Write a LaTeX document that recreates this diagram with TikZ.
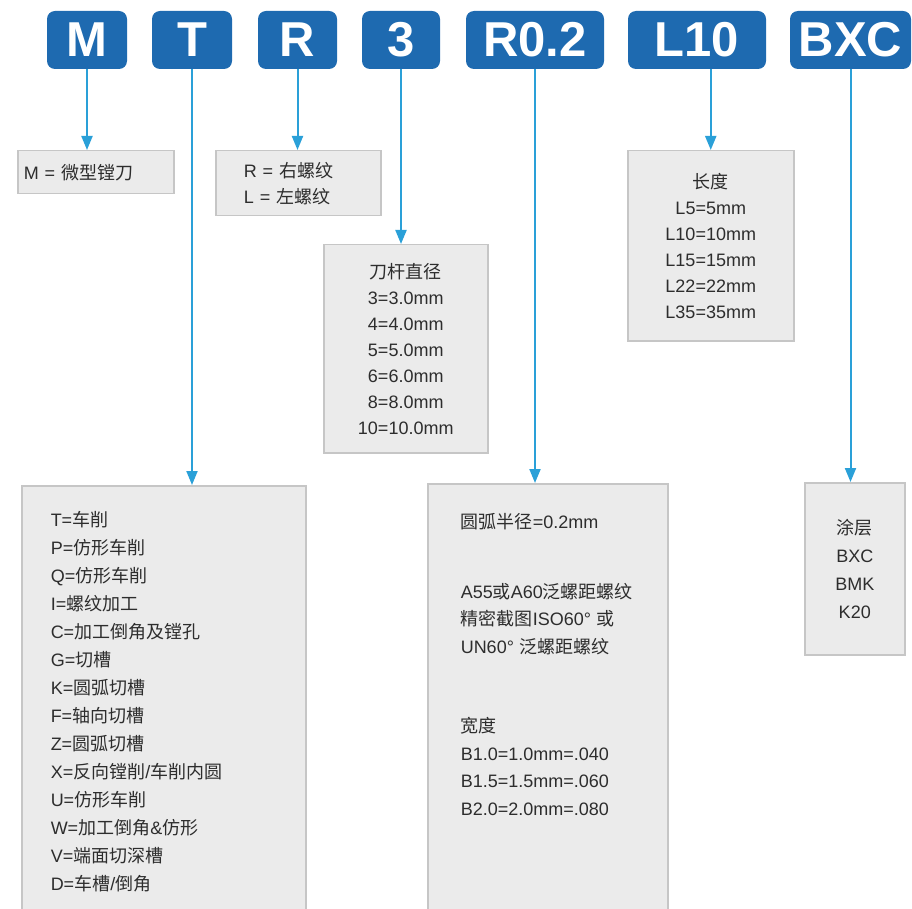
\documentclass[tikz,border=0pt]{standalone}
\usepackage{fontspec}
\setmainfont{Liberation Sans}
\newfontfamily\cjk{Noto Sans CJK SC}
\usepackage{tikz}
\usetikzlibrary{arrows.meta}
\usepackage{xcolor}
\definecolor{ColCode}{RGB}{30,106,176}
\definecolor{ColLink}{RGB}{42,160,216}
\definecolor{ColFill}{RGB}{235,235,235}
\definecolor{ColLine}{RGB}{198,198,198}
\definecolor{ColText}{RGB}{45,45,45}
\tikzstyle{NodeCode}=[rectangle,rounded corners=8pt,fill=ColCode,text=white,minimum height=58pt,
inner sep=0pt,font=\fontsize{49}{49}\selectfont\bfseries]
\tikzstyle{NodeInfo}=[rectangle,draw=ColLine,fill=ColFill,line width=1.5pt,text=ColText,
anchor=north west,inner sep=0pt,font=\fontsize{18}{26}\selectfont]
\tikzstyle{EdgeLink}=[ColLink,line width=2pt,-{Triangle[length=14pt,width=11pt]}]

\begin{document}
\begin{tikzpicture}[x=1pt,y=-1pt]
        \useasboundingbox(0,0)rectangle(912,909);
        % code letters
        \node[NodeCode,minimum width=80pt](m)at(87,40){M};
        \node[NodeCode,minimum width=80pt](t)at(192,40){T};
        \node[NodeCode,minimum width=79pt](r)at(297.5,40){R};
        \node[NodeCode,minimum width=78pt](d)at(401,40){3};
        \node[NodeCode,minimum width=138pt](rad)at(535,40){R0.2};
        \node[NodeCode,minimum width=138pt](len)at(697,40){L10};
        \node[NodeCode,minimum width=121pt](coat)at(850.5,40){BXC};
        % explanations
        \node[NodeInfo,minimum width=156pt,minimum height=43pt,text width=144pt,inner xsep=6pt,
            align=left](mbox)at(17,150){M = {\cjk 微型镗刀}};
        \node[NodeInfo,minimum width=165pt,minimum height=65pt,text width=109pt,inner xsep=28pt,
            align=left](rbox)at(215,150){R = {\cjk 右螺纹}\\L = {\cjk 左螺纹}};
        \node[NodeInfo,minimum width=164pt,minimum height=208pt,align=center](dbox)at(323,244){%
            {\cjk 刀杆直径}\\3=3.0mm\\4=4.0mm\\5=5.0mm\\6=6.0mm\\8=8.0mm\\10=10.0mm};
        \node[NodeInfo,minimum width=166pt,minimum height=190pt,align=center](lbox)at(627,150){%
            {\cjk 长度}\\L5=5mm\\L10=10mm\\L15=15mm\\L22=22mm\\L35=35mm};
        \node[NodeInfo,text width=226pt,inner xsep=29pt,inner ysep=26pt,text depth=380pt,align=left,
            font=\fontsize{18}{28}\selectfont](tbox)at(21,485){%
            T={\cjk 车削}\\P={\cjk 仿形车削}\\Q={\cjk 仿形车削}\\I={\cjk 螺纹加工}\\
            C={\cjk 加工倒角及镗孔}\\G={\cjk 切槽}\\K={\cjk 圆弧切槽}\\F={\cjk 轴向切槽}\\
            Z={\cjk 圆弧切槽}\\X={\cjk 反向镗削}/{\cjk 车削内圆}\\U={\cjk 仿形车削}\\
            W={\cjk 加工倒角}\&{\cjk 仿形}\\V={\cjk 端面切深槽}\\D={\cjk 车槽}/{\cjk 倒角}};
        \node[NodeInfo,text width=174pt,inner xsep=33pt,inner ysep=30pt,text depth=375pt,align=left,
            font=\fontsize{18}{27.5}\selectfont](radbox)at(427,483){%
            {\cjk 圆弧半径}=0.2mm\\[42pt]
            A55{\cjk 或}A60{\cjk 泛螺距螺纹}\\
            {\cjk 精密截图}ISO60°\ {\cjk 或}\\
            UN60°\ {\cjk 泛螺距螺纹}\\[52pt]
            {\cjk 宽度}\\B1.0=1.0mm=.040\\B1.5=1.5mm=.060\\B2.0=2.0mm=.080};
        \node[NodeInfo,minimum width=100pt,minimum height=172pt,align=center,
            font=\fontsize{18}{28}\selectfont](cbox)at(804,482){%
            {\cjk 涂层}\\BXC\\BMK\\K20};
        % links
        \draw[EdgeLink](m.south)--(m.south|-mbox.north);
        \draw[EdgeLink](t.south)--(t.south|-tbox.north);
        \draw[EdgeLink](r.south)--(r.south|-rbox.north);
        \draw[EdgeLink](d.south)--(d.south|-dbox.north);
        \draw[EdgeLink](rad.south)--(rad.south|-radbox.north);
        \draw[EdgeLink](len.south-|lbox.north)--(lbox.north);
        \draw[EdgeLink](coat.south)--(coat.south|-cbox.north);
    \end{tikzpicture}
\end{document}
